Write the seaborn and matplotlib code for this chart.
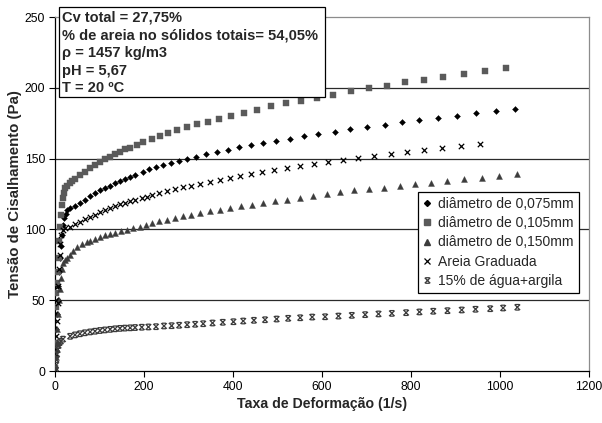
import numpy as np
import pandas as pd
import matplotlib
matplotlib.use("Agg")
import matplotlib.pyplot as plt
from matplotlib.path import Path
from matplotlib.patches import Rectangle
from matplotlib.lines import Line2D
import seaborn as sns

# ---- data: shear rate (1/s) and shear stress (Pa) for each suspension ----
d075_x = [1, 2, 3, 4.5, 6, 7.5, 9, 11, 13, 15, 17, 20, 24, 28,
          34, 45, 56, 67, 79, 90, 101, 112, 124, 135, 146, 157, 169, 180,
          197, 212, 227, 242, 260, 278, 297, 317, 339, 363, 388, 413, 440,
          468, 497, 528, 560, 592, 629, 664, 702, 742, 780, 819, 860, 903,
          946, 991, 1034]
d075_y = [1, 15, 30, 40, 50, 60, 70, 80, 88, 96, 103, 108, 111, 113.5,
          114.9, 116.5, 118.4, 120.7, 123.5, 125.9, 127.8, 129.5, 131, 132.6,
          134.1, 135.6, 137.1, 138.6,
          140.7, 142.4, 143.8, 145.2, 146.8, 148.2, 149.7, 151.3, 153.0, 154.6,
          156.3, 157.9, 159.4, 161.0, 162.4, 164.1, 165.8, 167.4, 169.0, 170.7,
          172.3, 174.0, 175.7, 177.3, 178.7, 180.3, 182.0, 183.6, 185.0]

d105_x = [0.5, 1, 1.5, 2, 4, 6, 8, 10, 12, 14, 16, 18, 20, 23, 28, 34, 39,
          45, 56, 67, 79, 90, 101, 112, 124, 135, 146, 157, 169, 184, 198,
          217, 236, 255, 275, 296, 318, 343, 369, 396, 425, 455, 486, 518,
          553, 588, 625, 665, 705, 745, 786, 829, 873, 919, 967, 1013]
d105_y = [2, 20, 45, 55, 62, 70, 80, 92, 102, 110, 117, 122, 126, 129, 131,
          132.5, 134, 135.4, 138.4, 140.7, 143.1, 145.5, 147.8, 149.7, 151.3,
          153.2, 154.9, 156.6, 157.7, 159.6, 161.5, 163.6, 165.7, 167.9, 170.0,
          172.1, 174.2, 176.1, 178.2, 180.3, 182.4, 184.5, 186.9, 189.0, 190.9,
          192.8, 195.1, 197.7, 199.6, 201.3, 203.9, 205.8, 207.7, 210.0, 211.9,
          213.8]

d150_x = [1, 2, 3.5, 5, 7, 9, 11, 13, 16, 19, 23, 28, 34, 41, 49, 60,
          71, 79, 90, 101, 113, 124, 135, 148, 161, 176, 191, 204, 219, 234,
          252, 270, 287, 306, 326, 348, 371, 393, 418, 443, 468, 494, 521,
          551, 580, 611, 640, 672, 706, 739, 775, 809, 845, 882, 920, 960,
          998, 1039]
d150_y = [1, 10, 20, 30, 40, 50, 58, 66, 72, 76, 78.5, 80, 82, 85, 87.5, 89.5,
          91, 92, 93.3, 94.5, 95.7, 96.8, 97.8, 98.9, 99.9, 100.9, 101.9, 103.3,
          104.5, 105.7, 106.9, 108.1, 109.3, 110.4, 111.6, 112.8, 113.9, 115.1,
          116.3, 117.4, 118.6, 119.8, 120.9, 122.2, 123.4, 125.2, 126.2, 127.6,
          128.5, 129.4, 130.6, 131.8, 133.0, 134.2, 135.4, 136.5, 137.7, 138.9]

grad_x = [1, 2, 3, 4.5, 6, 7.5, 9, 10.5, 12, 14, 17, 23, 34, 45, 56, 67,
          79, 90, 101, 112, 124, 135, 146, 157, 169, 180, 195, 206, 219, 234,
          251, 269, 287, 306, 326, 348, 371, 393, 416, 440, 466, 493, 521,
          551, 582, 614, 647, 682, 717, 754, 792, 830, 870, 912, 955]
grad_y = [1, 12, 25, 35, 48, 60, 72, 82, 90, 96, 99.8, 100.8, 102, 103.5,
          105.2, 107, 108.8, 110.5, 112, 113.5, 115, 116.4, 117.7, 118.9, 120,
          121, 122.0, 123.1, 124.3, 125.9, 127.3, 128.5, 129.7, 130.9, 132.1,
          133.5, 134.9, 136.3, 137.7, 139.1, 140.5, 141.9, 143.1, 144.6, 146.0,
          147.8, 149.0, 150.4, 151.8, 153.2, 154.7, 156.1, 157.5, 158.9, 160.1]

clay_x = [1, 2, 3, 4.5, 6, 8, 10, 13, 18, 34, 45, 56, 67, 79, 90, 101, 112,
          124, 135, 146, 157, 169, 180, 195, 210, 227, 245, 262, 279, 297,
          315, 333, 354, 377, 401, 423, 447, 472, 498, 524, 551, 578, 607,
          637, 667, 697, 727, 757, 789, 819, 850, 882, 914, 945, 978, 1007,
          1039]
clay_y = [0.5, 4, 8, 12, 15, 18, 20, 21, 22.5, 24.5, 25.5, 26.3, 27, 27.6,
          28.1, 28.6, 29, 29.4, 29.8, 30.1, 30.3, 30.5, 30.7, 30.9, 31.1, 31.3,
          31.8, 32.0, 32.3, 32.7, 33.0, 33.4, 33.9, 34.4, 34.8, 35.3, 35.8,
          36.2, 36.7, 37.2, 37.6, 38.1, 38.3, 38.8, 39.3, 39.8, 40.3, 40.7,
          41.2, 41.7, 42.2, 42.6, 43.1, 43.6, 44.0, 44.5, 45.0]

series_labels = ["diâmetro de 0,075mm", "diâmetro de 0,105mm",
                 "diâmetro de 0,150mm", "Areia Graduada",
                 "15% de água+argila"]

info_lines = ["Cv total = 27,75%",
              "% de areia no sólidos totais= 54,05%",
              "ρ = 1457 kg/m3",
              "pH = 5,67",
              "T = 20 ºC"]

x_ticks = [0, 200, 400, 600, 800, 1000, 1200]
y_ticks = [0, 50, 100, 150, 200, 250]

# ---- styling ----
sns.set_style("white")
plt.rcParams["font.family"] = ["Liberation Sans", "DejaVu Sans"]

# x with short bars at top and bottom
star_path = Path(
    [(-0.5, -0.5), (0.5, 0.5), (-0.5, 0.5), (0.5, -0.5),
     (-0.35, 0.5), (0.35, 0.5), (-0.35, -0.5), (0.35, -0.5)],
    [Path.MOVETO, Path.LINETO, Path.MOVETO, Path.LINETO,
     Path.MOVETO, Path.LINETO, Path.MOVETO, Path.LINETO])

fig = plt.figure(figsize=(6.02, 4.23), dpi=100)
ax = fig.add_axes([55 / 602, 1 - 371 / 423, 534 / 602, 354 / 423])

styles = [
    (d075_x, d075_y, dict(marker="D", s=9, color="#000000", edgecolor="#000000", linewidth=0.3)),
    (d105_x, d105_y, dict(marker="s", s=16, color="#5a5a5a", edgecolor="#5a5a5a", linewidth=0.3)),
    (d150_x, d150_y, dict(marker="^", s=18, color="#3c3c3c", edgecolor="#3c3c3c", linewidth=0.3)),
    (grad_x, grad_y, dict(marker="x", s=15, color="#000000", linewidth=0.9)),
]
for xs, ys, kw in styles:
    sns.scatterplot(x=xs, y=ys, ax=ax, zorder=3, legend=False, **kw)

sns.scatterplot(x=clay_x, y=clay_y, ax=ax, marker=star_path, s=16,
                facecolor="none", edgecolor="#3c3c3c", linewidth=0.9,
                zorder=3, legend=False)

ax.set_xlim(0, 1200)
ax.set_ylim(0, 250)
ax.set_xticks(x_ticks)
ax.set_yticks(y_ticks)
ax.tick_params(axis="both", direction="out", length=4, width=0.8,
               labelsize=8.8, colors="#000000", pad=3)
ax.tick_params(axis="x", bottom=True)
ax.tick_params(axis="y", left=True)

for yv in y_ticks[1:-1]:
    ax.axhline(yv, color="#2a2a2a", lw=0.9, zorder=1)

for side in ["left", "bottom"]:
    ax.spines[side].set_color("#000000")
    ax.spines[side].set_linewidth(0.9)
for side in ["top", "right"]:
    ax.spines[side].set_visible(True)
    ax.spines[side].set_color("#8c8c8c")
    ax.spines[side].set_linewidth(0.9)

ax.set_xlabel("Taxa de Deformação (1/s)", fontsize=10.2, fontweight="bold", labelpad=3)
ax.set_ylabel("Tensão de Cisalhamento (Pa)", fontsize=10.8, fontweight="bold", labelpad=2)

# legend
handles = [
    Line2D([], [], ls="none", marker="D", ms=3, color="#000000"),
    Line2D([], [], ls="none", marker="s", ms=4, color="#5a5a5a"),
    Line2D([], [], ls="none", marker="^", ms=4.3, color="#3c3c3c"),
    Line2D([], [], ls="none", marker="x", ms=3.8, mew=0.9, color="#000000"),
    Line2D([], [], ls="none", marker=star_path, ms=4, mew=0.9,
           markerfacecolor="none", markeredgecolor="#3c3c3c"),
]
leg = ax.legend(handles, series_labels, loc="upper left",
                bbox_to_anchor=((418 - 55) / 534, 1 - (192 - 17) / 354),
                fontsize=10, frameon=True, fancybox=False, framealpha=1,
                edgecolor="#000000", handlelength=0.6, handletextpad=0.5,
                borderpad=0.35, labelspacing=0.38, borderaxespad=0)
leg.get_frame().set_linewidth(0.9)

# information box
fig.add_artist(Rectangle((59 / 602, 1 - 97 / 423), (325 - 59) / 602, 90 / 423,
                         transform=fig.transFigure, facecolor="white",
                         edgecolor="#000000", linewidth=0.9, zorder=5))
line_y = [17, 35, 53, 71, 88.5]
for txt, yp in zip(info_lines, line_y):
    fig.text(62 / 602, 1 - yp / 423, txt, fontsize=10.5, fontweight="bold",
             va="center", ha="left", zorder=6)

fig.savefig("out.png", dpi=100)
